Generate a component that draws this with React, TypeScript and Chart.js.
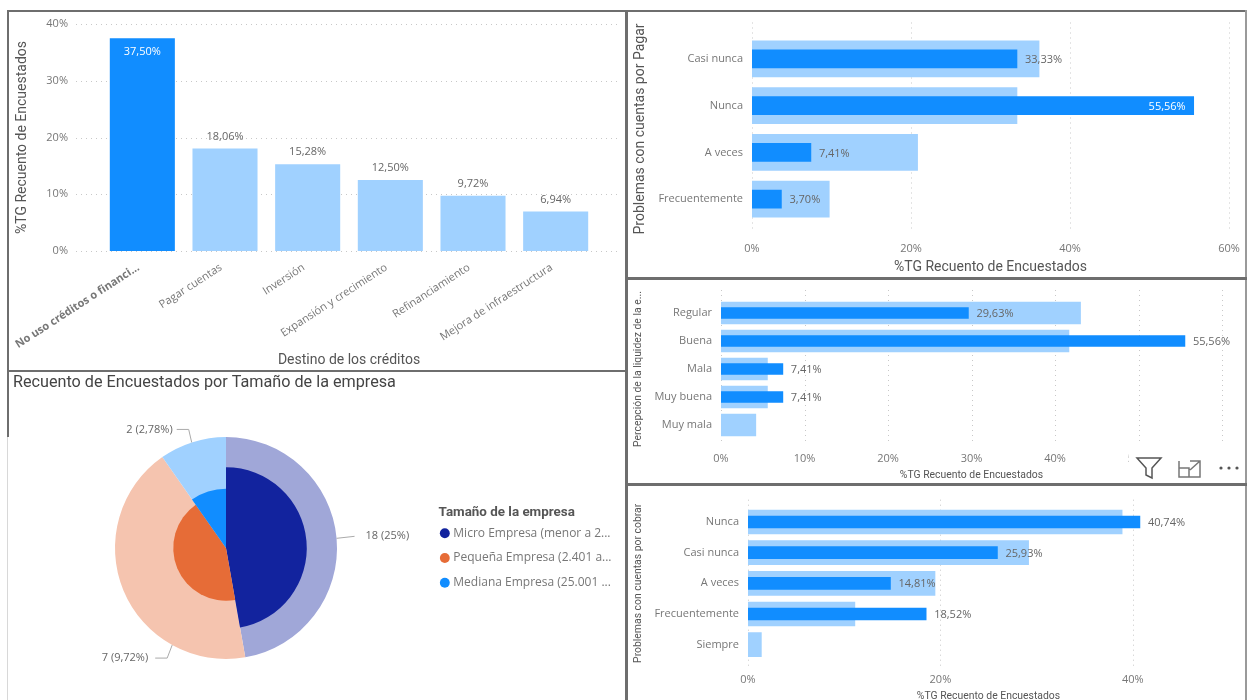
import React, { useEffect, useRef } from "react";
import { Chart, registerables } from "chart.js";

Chart.register(...registerables);

const DARK = "#118DFF";
const LIGHT = "#A0D1FF";
const TICK = "#777777";
const TITLE = "#555555";
const LABEL = "#666666";
const UI = "'Open Sans', sans-serif";
const HEAD = "Roboto, sans-serif";

const destinoLabels = ["No uso créditos o financi...", "Pagar cuentas", "Inversión", "Expansión y crecimiento", "Refinanciamiento", "Mejora de infraestructura"];
const destinoValues = [37.5, 18.06, 15.28, 12.5, 9.72, 6.94];

const pagarLabels = ["Casi nunca", "Nunca", "A veces", "Frecuentemente"];
const pagarTotal = [36.11, 33.33, 20.83, 9.72];
const pagarHighlight = [33.33, 55.56, 7.41, 3.7];

const liquidezLabels = ["Regular", "Buena", "Mala", "Muy buena", "Muy mala"];
const liquidezTotal = [43.06, 41.67, 5.56, 5.56, 4.17];
const liquidezHighlight = [29.63, 55.56, 7.41, 7.41, null];

const cobrarLabels = ["Nunca", "Casi nunca", "A veces", "Frecuentemente", "Siempre"];
const cobrarTotal = [38.89, 29.17, 19.44, 11.11, 1.39];
const cobrarHighlight = [40.74, 25.93, 14.81, 18.52, null];

const sizeTitle = "Tamaño de la empresa";
const sizeLabels = ["Micro Empresa (menor a 2...", "Pequeña Empresa (2.401 a...", "Mediana Empresa (25.001 ..."];
const sizeTotals = [34, 31, 7];
const sizeCounts = [18, 7, 2];
const sizeCountLabels = ["18 (25%)", "7 (9,72%)", "2 (2,78%)"];
const sizeDark = ["#12239E", "#E66C37", "#118DFF"];
const sizeLight = ["#A0A7D8", "#F5C4AF", "#A0D1FF"];
const leaderAngles = [85, 209, 342];

const pct = (v: number) => v.toFixed(2).replace(".", ",") + "%";

const gridPlugin = {
  id: "dotGrid",
  beforeDatasetsDraw(chart: any, _a: any, o: any) {
    if (!o.axis) return;
    const { ctx, chartArea: c } = chart;
    const s = chart.scales[o.axis];
    ctx.save();
    ctx.strokeStyle = "#C8C8C8";
    ctx.lineWidth = 1;
    ctx.setLineDash([1, 4]);
    s.ticks.forEach((t: any) => {
      const p = Math.round(s.getPixelForValue(t.value)) + 0.5;
      ctx.beginPath();
      if (o.axis === "y") {
        ctx.moveTo(c.left - o.before, p);
        ctx.lineTo(c.right + o.after, p);
      } else {
        ctx.moveTo(p, c.top - o.before);
        ctx.lineTo(p, c.bottom + o.after);
      }
      ctx.stroke();
    });
    ctx.restore();
  },
};

const valueLabelPlugin = {
  id: "valueLabels",
  afterDatasetsDraw(chart: any, _a: any, o: any) {
    if (!o.mode) return;
    const { ctx } = chart;
    const meta = chart.getDatasetMeta(0);
    const data = chart.data.datasets[0].data;
    ctx.save();
    ctx.font = `${o.size || 11}px ${UI}`;
    ctx.textBaseline = "middle";
    meta.data.forEach((el: any, i: number) => {
      const v = data[i];
      if (v == null) return;
      const inside = o.inside && o.inside.includes(i);
      ctx.fillStyle = inside ? "#FFFFFF" : LABEL;
      if (o.mode === "v") {
        ctx.textAlign = "center";
        ctx.fillText(pct(v), el.x, inside ? el.y + 14 : el.y - 12);
      } else {
        ctx.textAlign = inside ? "right" : "left";
        ctx.fillText(pct(v), el.x + (inside ? -8 : 8), el.y + 1);
      }
    });
    ctx.restore();
  },
};

const leaderPlugin = {
  id: "leaders",
  afterDatasetsDraw(chart: any) {
    const { ctx } = chart;
    const s = chart.scales.r;
    if (!s) return;
    const R = s.drawingArea;
    const layouts = [
      { dx: 18, dy: -2, ex: 0, lx: 29, align: "left" },
      { dx: -17, dy: 13, ex: -5, lx: -24, align: "right" },
      { dx: -15, dy: -13, ex: -3, lx: -19, align: "right" },
    ];
    ctx.save();
    ctx.font = `11px ${UI}`;
    ctx.textBaseline = "middle";
    leaderAngles.forEach((a, i) => {
      const rad = (a * Math.PI) / 180;
      const x = s.xCenter + R * Math.sin(rad);
      const y = s.yCenter - R * Math.cos(rad);
      const l = layouts[i];
      ctx.strokeStyle = "#AAAAAA";
      ctx.lineWidth = 1;
      ctx.beginPath();
      ctx.moveTo(x, y);
      if (l.ex) ctx.lineTo(x + l.ex, y + l.dy);
      ctx.lineTo(x + l.dx, y + l.dy);
      ctx.stroke();
      ctx.fillStyle = LABEL;
      ctx.textAlign = l.align;
      ctx.fillText(sizeCountLabels[i], x + l.lx, y + l.dy);
    });
    ctx.restore();
  },
};

const headingPlugin = {
  id: "heading",
  afterLayout(chart: any) {
    const lg = chart.legend;
    if (lg) {
      lg.top += 9.5;
      lg.bottom += 9.5;
    }
  },
  afterDraw(chart: any, _a: any, o: any) {
    if (!o.text) return;
    const { ctx } = chart;
    ctx.save();
    ctx.textAlign = "left";
    ctx.textBaseline = "middle";
    ctx.font = `16.2px ${HEAD}`;
    ctx.fillStyle = "#444444";
    ctx.fillText(o.text, o.x, o.y);
    ctx.font = `bold 13.4px ${HEAD}`;
    ctx.fillStyle = "#555555";
    ctx.fillText(sizeTitle, chart.legend.left + 9, chart.scales.r.yCenter - 35.5);
    ctx.restore();
  },
};

type Box = { l: number; t: number; r: number; b: number };

function axisTitle(text: string, size: number, pad: any) {
  return { display: true, text, color: TITLE, font: { family: HEAD, size, weight: "normal" }, padding: pad };
}

function fixedLayout(box: Box, plot: Box) {
  return {
    padding: { left: 0, top: plot.t - box.t, right: box.r - plot.r, bottom: 0 },
    autoPadding: false,
  };
}

const noPadding = (s: any) => {
  s.paddingLeft = 0;
  s.paddingRight = 0;
  s.paddingTop = 0;
  s.paddingBottom = 0;
};

const hiddenGrid = { display: false, drawTicks: false };

function columnConfig() {
  const box = { l: 9, t: 12, r: 624, b: 369 };
  const plot = { l: 101, t: 24, r: 597, b: 251 };
  return {
    box,
    config: {
      type: "bar",
      data: {
        labels: destinoLabels,
        datasets: [
          {
            data: destinoValues,
            backgroundColor: destinoValues.map((_, i) => (i === 0 ? DARK : LIGHT)),
            categoryPercentage: 1,
            barPercentage: 0.787,
          },
        ],
      },
      options: {
        responsive: false,
        animation: false,
        layout: fixedLayout(box, plot),
        plugins: {
          legend: { display: false },
          tooltip: { enabled: false },
          dotGrid: { axis: "y", before: 25, after: 21 },
          valueLabels: { mode: "v", inside: [0] },
        },
        scales: {
          x: {
            grid: hiddenGrid,
            border: { display: false },
            afterFit: (s: any) => { s.height = box.b - plot.b; noPadding(s); },
            ticks: {
              autoSkip: false,
              minRotation: 33,
              maxRotation: 33,
              padding: 10,
              labelOffset: -4,
              color: TICK,
              font: (c: any) => ({ family: UI, size: 11, weight: c.index === 0 ? "bold" : "normal" }),
            },
            title: axisTitle("Destino de los créditos", 14, { top: 0, bottom: 0 }),
          },
          y: {
            min: 0,
            max: 40,
            grid: hiddenGrid,
            border: { display: false },
            afterFit: (s: any) => { s.width = plot.l - box.l; noPadding(s); },
            ticks: { stepSize: 10, padding: 33, color: TICK, font: { family: UI, size: 11 }, callback: (v: any) => v + "%" },
            title: axisTitle("%TG Recuento de Encuestados", 14, { top: 5, bottom: 0 }),
          },
        },
      },
    },
  };
}

function barConfig(opts: any) {
  const { box, plot, labels, total, highlight, max, step, thick, yTitle, xTitle, titleSize, tickPad, grid, inside } = opts;
  return {
    box,
    config: {
      type: "bar",
      data: {
        labels,
        datasets: [
          { data: highlight, backgroundColor: DARK, grouped: false, barThickness: thick / 2 },
          { data: total, backgroundColor: LIGHT, grouped: false, barThickness: thick },
        ],
      },
      options: {
        indexAxis: "y",
        responsive: false,
        animation: false,
        layout: fixedLayout(box, plot),
        plugins: {
          legend: { display: false },
          tooltip: { enabled: false },
          dotGrid: { axis: "x", before: grid[0], after: grid[1] },
          valueLabels: { mode: "h", inside },
        },
        scales: {
          x: {
            min: 0,
            max,
            grid: hiddenGrid,
            border: { display: false },
            afterFit: (s: any) => { s.height = box.b - plot.b; noPadding(s); },
            ticks: { stepSize: step, includeBounds: false, padding: tickPad, maxRotation: 0, color: TICK, font: { family: UI, size: 11 }, callback: (v: any) => v + "%" },
            title: axisTitle(xTitle, titleSize, { top: 0, bottom: 0 }),
          },
          y: {
            grid: hiddenGrid,
            border: { display: false },
            afterFit: (s: any) => { s.width = plot.l - box.l; noPadding(s); },
            ticks: { padding: 9, autoSkip: false, color: TICK, font: { family: UI, size: 11 } },
            title: axisTitle(yTitle, titleSize, { top: 0, bottom: 0 }),
          },
        },
      },
    },
  };
}

function pieConfig() {
  const box = { l: 8, t: 372, r: 631, b: 700 };
  const sum = sizeTotals.reduce((a, b) => a + b, 0);
  const angle = (c: any) => (360 * sizeTotals[c.dataIndex]) / sum;
  return {
    box,
    config: {
      type: "polarArea",
      data: {
        labels: sizeLabels,
        datasets: [
          { data: sizeCounts.map((n, i) => Math.sqrt(n / sizeTotals[i])), backgroundColor: sizeDark, borderWidth: 0, angle },
          { data: sizeTotals.map(() => 1), backgroundColor: sizeLight, borderWidth: 0, angle },
        ],
      },
      options: {
        responsive: false,
        animation: false,
        layout: { padding: { left: 15.4, top: 65.5, right: 9.5, bottom: 40.5 }, autoPadding: false },
        elements: { arc: { angle } },
        scales: {
          r: {
            min: 0,
            max: 1,
            startAngle: 0,
            grid: { display: false },
            angleLines: { display: false },
            ticks: { display: false },
            pointLabels: { display: false },
          },
        },
        plugins: {
          tooltip: { enabled: false },
          title: { display: false },
          legend: {
            position: "right",
            align: "center",
            labels: {
              usePointStyle: true,
              boxWidth: 5,
              boxHeight: 7,
              padding: 12.7,
              color: TICK,
              font: { family: UI, size: 12 },
              generateLabels: () =>
                sizeLabels.map((text, i) => ({ text, fillStyle: sizeDark[i], strokeStyle: sizeDark[i], lineWidth: 0, pointStyle: "circle", index: i, fontColor: TICK })),
            },
          },
        },
      },
    },
  };
}

function ChartBox({ make, extra }: { make: () => any; extra?: any }) {
  const ref = useRef<HTMLCanvasElement>(null);
  const built = make();
  const { box } = built;
  useEffect(() => {
    const cfg = make().config;
    if (extra) cfg.options.plugins = { ...cfg.options.plugins, ...extra };
    const chart = new Chart(ref.current as any, { ...cfg, plugins: [gridPlugin, valueLabelPlugin, ...(cfg.type === "polarArea" ? [leaderPlugin, headingPlugin] : [])] });
    return () => chart.destroy();
  }, []);
  return (
    <canvas
      ref={ref}
      width={box.r - box.l}
      height={box.b - box.t}
      style={{ position: "absolute", left: box.l, top: box.t, width: box.r - box.l, height: box.b - box.t }}
    />
  );
}

const line = (l: number, t: number, w: number, h: number, c = "#6E6E6E") => (
  <div key={`${l}-${t}-${w}-${h}`} style={{ position: "absolute", left: l, top: t, width: w, height: h, background: c }} />
);

const pagar = () =>
  barConfig({
    box: { l: 632, t: 12, r: 1244, b: 276 },
    plot: { l: 752, t: 35.5, r: 1229, b: 222.5 },
    labels: pagarLabels,
    total: pagarTotal,
    highlight: pagarHighlight,
    max: 60,
    step: 20,
    thick: 36,
    yTitle: "Problemas con cuentas por Pagar",
    xTitle: "%TG Recuento de Encuestados",
    titleSize: 14,
    tickPad: 20,
    grid: [13, 8],
    inside: [1],
  });

const liquidez = () =>
  barConfig({
    box: { l: 632, t: 280, r: 1244, b: 482 },
    plot: { l: 721, t: 299, r: 1222, b: 439 },
    labels: liquidezLabels,
    total: liquidezTotal,
    highlight: liquidezHighlight,
    max: 60,
    step: 10,
    thick: 22,
    yTitle: "Percepción de la liquidez de la e...",
    xTitle: "%TG Recuento de Encuestados",
    titleSize: 10.4,
    tickPad: 13,
    grid: [9, 6],
    inside: [],
  });

const cobrar = () =>
  barConfig({
    box: { l: 632, t: 485, r: 1244, b: 703 },
    plot: { l: 748, t: 506.7, r: 1229, b: 660 },
    labels: cobrarLabels,
    total: cobrarTotal,
    highlight: cobrarHighlight,
    max: 50,
    step: 20,
    thick: 24,
    yTitle: "Problemas con cuentas por cobrar",
    xTitle: "%TG Recuento de Encuestados",
    titleSize: 10.4,
    tickPad: 13,
    grid: [7, 7],
    inside: [],
  });

export default function App() {
  return (
    <div style={{ position: "fixed", left: 0, top: 0, width: 1248, height: 700, overflow: "hidden", background: "#fff" }}>
      <ChartBox make={columnConfig} />
      <ChartBox make={pagar} />
      <ChartBox make={liquidez} />
      <ChartBox make={cobrar} />
      <ChartBox make={pieConfig} extra={{ heading: { text: "Recuento de Encuestados por Tamaño de la empresa", x: 5, y: 11 } }} />
      {line(7, 10, 619, 2)}
      {line(7, 10, 2, 427)}
      {line(7, 437, 1, 263, "#D8D8D8")}
      {line(7, 370, 619, 2)}
      {line(625, 10, 3, 690)}
      {line(628, 10, 619, 2)}
      {line(1245, 10, 2, 690, "#9A9A9A")}
      {line(628, 277, 619, 3)}
      {line(628, 483, 619, 3)}
      <div style={{ position: "absolute", left: 1129, top: 454, width: 115, height: 28, background: "#fff" }}>
        <svg width="115" height="28" style={{ display: "block" }}>
          <path d="M8 4 H32 L23 14 V24 L17 21 V14 Z" fill="none" stroke="#555" strokeWidth="1.5" />
          <path d="M50 7 V23 H71 V7 M50 14 H60 V23 M61 7 H71 V16 M71 7 L61 16" fill="none" stroke="#777" strokeWidth="1.5" />
          <circle cx="92" cy="14" r="1.6" fill="#555" />
          <circle cx="100" cy="14" r="1.6" fill="#555" />
          <circle cx="108" cy="14" r="1.6" fill="#555" />
        </svg>
      </div>
    </div>
  );
}
